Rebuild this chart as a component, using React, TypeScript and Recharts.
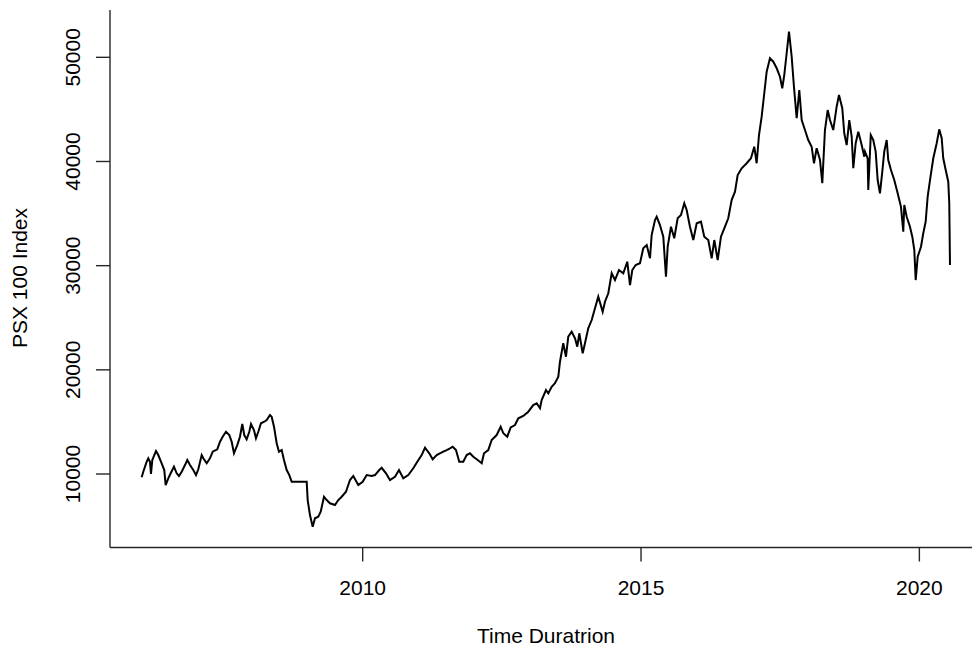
import React from 'react';
import { LineChart, Line, XAxis, YAxis } from 'recharts';

const years: number[] = [
  2006.030, 2006.059, 2006.120, 2006.149, 2006.179, 2006.197, 2006.221, 2006.287, 2006.328, 2006.389,
  2006.436, 2006.461, 2006.508, 2006.551, 2006.610, 2006.659, 2006.700, 2006.749, 2006.808, 2006.849,
  2006.898, 2006.957, 2007.006, 2007.047, 2007.108, 2007.137, 2007.198, 2007.257, 2007.306, 2007.388,
  2007.437, 2007.485, 2007.544, 2007.604, 2007.647, 2007.688, 2007.747, 2007.796, 2007.837, 2007.873,
  2007.916, 2007.963, 2007.994, 2008.047, 2008.083, 2008.125, 2008.173, 2008.232, 2008.276, 2008.335,
  2008.365, 2008.407, 2008.455, 2008.496, 2008.545, 2008.586, 2008.635, 2008.682, 2008.725, 2008.850,
  2008.994, 2009.012, 2009.053, 2009.102, 2009.143, 2009.202, 2009.246, 2009.305, 2009.353, 2009.413,
  2009.502, 2009.562, 2009.623, 2009.700, 2009.772, 2009.831, 2009.921, 2010.000, 2010.072, 2010.162,
  2010.221, 2010.298, 2010.341, 2010.419, 2010.490, 2010.580, 2010.652, 2010.729, 2010.819, 2010.909,
  2010.981, 2011.060, 2011.119, 2011.196, 2011.257, 2011.329, 2011.448, 2011.509, 2011.568, 2011.617,
  2011.676, 2011.735, 2011.807, 2011.868, 2011.927, 2011.987, 2012.066, 2012.138, 2012.179, 2012.256,
  2012.317, 2012.407, 2012.479, 2012.526, 2012.597, 2012.659, 2012.736, 2012.795, 2012.885, 2012.975,
  2013.064, 2013.126, 2013.185, 2013.215, 2013.293, 2013.334, 2013.395, 2013.454, 2013.514, 2013.544,
  2013.603, 2013.652, 2013.693, 2013.754, 2013.814, 2013.855, 2013.891, 2013.952, 2013.993, 2014.052,
  2014.114, 2014.173, 2014.232, 2014.311, 2014.352, 2014.412, 2014.473, 2014.532, 2014.604, 2014.681,
  2014.753, 2014.802, 2014.843, 2014.904, 2014.981, 2015.040, 2015.102, 2015.161, 2015.191, 2015.251,
  2015.281, 2015.340, 2015.400, 2015.448, 2015.479, 2015.538, 2015.597, 2015.658, 2015.718, 2015.777,
  2015.820, 2015.879, 2015.939, 2016.000, 2016.077, 2016.136, 2016.208, 2016.269, 2016.316, 2016.377,
  2016.436, 2016.508, 2016.567, 2016.628, 2016.688, 2016.736, 2016.808, 2016.898, 2016.975, 2017.034,
  2017.077, 2017.119, 2017.167, 2017.214, 2017.257, 2017.316, 2017.376, 2017.437, 2017.496, 2017.537,
  2017.573, 2017.616, 2017.658, 2017.706, 2017.747, 2017.796, 2017.843, 2017.886, 2017.945, 2018.004,
  2018.065, 2018.107, 2018.155, 2018.215, 2018.256, 2018.304, 2018.353, 2018.394, 2018.453, 2018.514,
  2018.556, 2018.615, 2018.651, 2018.694, 2018.741, 2018.784, 2018.813, 2018.856, 2018.903, 2018.964,
  2019.010, 2019.023, 2019.071, 2019.082, 2019.127, 2019.172, 2019.215, 2019.251, 2019.292, 2019.334,
  2019.369, 2019.413, 2019.441, 2019.490, 2019.549, 2019.610, 2019.669, 2019.711, 2019.729, 2019.772,
  2019.831, 2019.873, 2019.909, 2019.934, 2019.970, 2020.029, 2020.070, 2020.113, 2020.149, 2020.191,
  2020.250, 2020.311, 2020.357, 2020.401, 2020.429, 2020.473, 2020.519, 2020.537, 2020.550,
];

const psx100: number[] = [
  9680, 10220, 11180, 11510, 11180, 10000, 11340, 12210, 11820, 11030,
  10380, 8940, 9590, 10070, 10700, 10070, 9810, 10220, 10860, 11340,
  10860, 10380, 9900, 10450, 11820, 11510, 11030, 11510, 12140, 12370,
  13100, 13580, 14060, 13740, 13100, 11990, 12780, 13580, 14800, 13740,
  13330, 14060, 14800, 14220, 13430, 14060, 14870, 15020, 15180, 15660,
  15500, 14540, 12950, 12140, 12300, 11340, 10380, 9900, 9260, 9260,
  9260, 7500, 6060, 4940, 5750, 5900, 6380, 7820, 7500, 7190,
  7020, 7500, 7820, 8300, 9420, 9810, 8940, 9260, 9900, 9810,
  9900, 10380, 10600, 10070, 9420, 9740, 10380, 9590, 9900, 10550,
  11180, 11820, 12520, 11990, 11410, 11820, 12140, 12300, 12470, 12620,
  12300, 11180, 11180, 11820, 11990, 11660, 11340, 11030, 11990, 12300,
  13260, 13740, 14540, 13910, 13580, 14480, 14700, 15350, 15570, 15980,
  16620, 16790, 16310, 17100, 18060, 17750, 18380, 18710, 19340, 20780,
  22550, 21260, 23180, 23660, 23030, 22220, 23510, 21590, 22550, 23990,
  24780, 25910, 27020, 25580, 26540, 27350, 29270, 28620, 29580, 29270,
  30380, 28140, 29580, 30060, 30230, 31670, 31980, 30710, 32940, 34380,
  34700, 33900, 32780, 28940, 31820, 33740, 32630, 34550, 34860, 35990,
  35340, 33740, 32460, 34070, 34220, 32780, 32460, 30710, 32460, 30540,
  32780, 33740, 34550, 36300, 37100, 38700, 39350, 39830, 40310, 41420,
  39830, 42540, 44300, 46550, 48620, 49910, 49580, 48950, 48140, 47030,
  48300, 50390, 52460, 50060, 47180, 44150, 46860, 43980, 43020, 42060,
  41420, 39830, 41270, 40140, 37910, 43020, 44940, 43980, 43020, 45260,
  46380, 45110, 42710, 41580, 43980, 42380, 39350, 41750, 42860, 41580,
  40460, 40950, 40300, 37260, 42540, 42060, 40950, 38220, 36950, 39020,
  40950, 42060, 40140, 39180, 38220, 36950, 35660, 33260, 35820, 34700,
  33740, 32780, 31500, 28620, 30860, 31820, 33110, 34220, 36620, 38220,
  40310, 41750, 43090, 42230, 40310, 39180, 38060, 35990, 30060,
];

const xTicks: number[] = [2010, 2015, 2020];
const yTicks: number[] = [10000, 20000, 30000, 40000, 50000];
const xDomain: [number, number] = [2005.461, 2021.125];
const yDomain: [number, number] = [2945, 54543];

const xTitle = 'Time Duratrion';
const yTitle = 'PSX 100 Index';

const data = years.map((t, i) => ({ t, v: psx100[i] }));

const FONT = '"Liberation Sans", Arial, Helvetica, sans-serif';
const FS = 21;
const AXIS_COLOR = '#262626';

const YTick = (props: any) => {
  const { x, y, payload } = props;
  return (
    <text
      x={x}
      y={y}
      transform={`rotate(-90, ${x}, ${y})`}
      textAnchor="middle"
      fontSize={FS}
      fontFamily={FONT}
      fill="#000"
    >
      {payload.value}
    </text>
  );
};

const XTick = (props: any) => {
  const { x, y, payload } = props;
  return (
    <text x={x} y={y} dy="0.71em" textAnchor="middle" fontSize={FS} fontFamily={FONT} fill="#000">
      {payload.value}
    </text>
  );
};

export default function App() {
  return (
    <div
      style={{
        position: 'absolute',
        left: 0,
        top: 0,
        width: 972,
        height: 649,
        overflow: 'hidden',
        background: '#fff',
      }}
    >
      <LineChart
        width={1000}
        height={649}
        data={data}
        margin={{ top: 10, right: 18, bottom: 41.5, left: 0 }}
      >
        <XAxis
          dataKey="t"
          type="number"
          domain={xDomain}
          ticks={xTicks}
          allowDataOverflow
          height={60}
          tickSize={14}
          tickMargin={18.5}
          tick={<XTick />}
          axisLine={{ stroke: AXIS_COLOR, strokeWidth: 1.4 }}
          tickLine={{ stroke: AXIS_COLOR, strokeWidth: 1.4 }}
        />
        <XAxis
          xAxisId="top"
          dataKey="t"
          type="number"
          orientation="top"
          domain={xDomain}
          allowDataOverflow
          height={0}
          tick={false}
          tickLine={false}
          axisLine={{ stroke: AXIS_COLOR, strokeWidth: 1.4 }}
        />
        <YAxis
          type="number"
          domain={yDomain}
          ticks={yTicks}
          allowDataOverflow
          width={110}
          tickSize={14}
          tickMargin={16}
          tick={<YTick />}
          axisLine={{ stroke: AXIS_COLOR, strokeWidth: 1.4 }}
          tickLine={{ stroke: AXIS_COLOR, strokeWidth: 1.4 }}
        />
        <Line
          type="linear"
          dataKey="v"
          stroke="#000"
          strokeWidth={2}
          dot={false}
          isAnimationActive={false}
        />
      </LineChart>
      <svg
        width={972}
        height={649}
        style={{ position: 'absolute', left: 0, top: 0, pointerEvents: 'none' }}
      >
        <text
          x={546}
          y={643}
          textAnchor="middle"
          fontSize={FS}
          fontFamily={FONT}
          fill="#000"
        >
          {xTitle}
        </text>
        <text
          x={27}
          y={278}
          transform="rotate(-90, 27, 278)"
          textAnchor="middle"
          fontSize={FS}
          fontFamily={FONT}
          fill="#000"
        >
          {yTitle}
        </text>
      </svg>
    </div>
  );
}
